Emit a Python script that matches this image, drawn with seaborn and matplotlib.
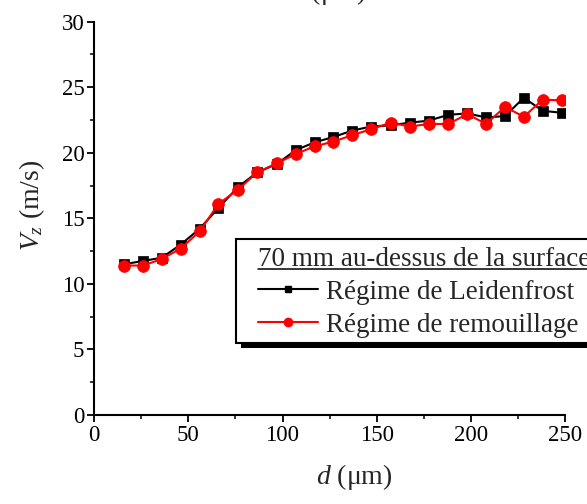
import numpy as np
import pandas as pd
import matplotlib
matplotlib.use("Agg")
import matplotlib.pyplot as plt
import seaborn as sns
from matplotlib.lines import Line2D
from matplotlib.patches import Rectangle
from matplotlib.ticker import MultipleLocator

# ---- data ----
d_um = [16, 26, 36, 46, 56, 66, 76.5, 86.5, 97, 107, 117, 127, 137, 147,
        157.5, 167.5, 177.5, 188, 198, 208, 218, 228, 238, 248.5]
vz_leidenfrost = [11.5, 11.75, 12.0, 13.0, 14.2, 15.8, 17.4, 18.5, 19.15, 20.2,
                  20.8, 21.2, 21.7, 22.0, 22.1, 22.3, 22.45, 22.9, 23.0, 22.7,
                  22.8, 24.2, 23.2, 23.05]
vz_remouillage = [11.4, 11.4, 11.9, 12.7, 14.0, 16.1, 17.2, 18.5, 19.2, 19.9,
                  20.5, 20.85, 21.35, 21.8, 22.3, 22.0, 22.2, 22.2, 22.95, 22.2,
                  23.5, 22.75, 24.05, 24.0]
series_names = ["Régime de Leidenfrost", "Régime de remouillage"]
legend_title = "70 mm au-dessus de la surface"
x_ticks = [0, 50, 100, 150, 200, 250]
y_ticks = [0, 5, 10, 15, 20, 25, 30]

df = pd.DataFrame({
    "d": d_um + d_um,
    "Vz": vz_leidenfrost + vz_remouillage,
    "serie": [series_names[0]] * len(d_um) + [series_names[1]] * len(d_um),
})

sns.set_style("ticks")
plt.rcParams["font.family"] = ["Liberation Serif", "DejaVu Serif"]
plt.rcParams["mathtext.fontset"] = "custom"
plt.rcParams["mathtext.rm"] = "Liberation Serif"
plt.rcParams["mathtext.it"] = "Liberation Serif:italic"

W, H = 587, 504
fig = plt.figure(figsize=(W / 100, H / 100), dpi=100)
ax = fig.add_axes([94 / W, 1 - 415 / H, (565.3 - 94) / W, (415 - 21.7) / H])
ax.set_facecolor("none")

palette = {series_names[0]: "black", series_names[1]: "red"}
markers = {series_names[0]: "s", series_names[1]: "o"}
sns.lineplot(data=df, x="d", y="Vz", hue="serie", style="serie",
             hue_order=series_names, style_order=series_names,
             palette=palette, markers=markers, dashes=False,
             linewidth=1.5, legend=False, ax=ax, sort=False)

msizes = [7, 8.5]
for ln, ms in zip(ax.lines[:2], msizes):
    ln.set_markersize(ms)
    ln.set_markeredgecolor(ln.get_color())
    ln.set_markeredgewidth(0.5)

ax.set_xlim(0, 250)
ax.set_ylim(0, 30)
ax.set_xticks(x_ticks)
ax.set_yticks(y_ticks)
ax.xaxis.set_minor_locator(MultipleLocator(25))
ax.yaxis.set_minor_locator(MultipleLocator(2.5))
ax.tick_params(which="major", direction="out", length=5, width=1.3,
               labelsize=16.5, pad=2, color="black", labelcolor="black")
ax.tick_params(which="minor", direction="out", length=3, width=1.1, color="black")
sns.despine(ax=ax)
for s in ["left", "bottom"]:
    ax.spines[s].set_linewidth(1.5)
    ax.spines[s].set_color("black")

ax.set_xlabel(r"$d$ (μm)", fontsize=20)
ax.set_ylabel(r"$V_z$ (m/s)", fontsize=20)
ax.xaxis.set_label_coords(0.552, -0.12)
ax.yaxis.set_label_coords(-0.10, 0.534)

# cut-off label from the panel above
fig.text(328 / W, 1 - 7 / H, r"$d$ (μm)", ha="center", va="bottom", fontsize=20)

# legend frame + shadow (frame runs past the right edge as in the reference)
fx0, fy0, fx1, fy1 = 236, 239, 610, 343  # pixels from top-left
off = 5
shadow = Rectangle(((fx0 + off) / W, 1 - (fy1 + off) / H), (fx1 - fx0) / W, (fy1 - fy0) / H,
                   transform=fig.transFigure, facecolor="black", edgecolor="none", zorder=4)
frame = Rectangle((fx0 / W, 1 - fy1 / H), (fx1 - fx0) / W, (fy1 - fy0) / H,
                  transform=fig.transFigure, facecolor="white", edgecolor="black",
                  linewidth=1.5, zorder=4.5)
fig.patches.extend([shadow, frame])

handles = [
    Line2D([], [], color="black", lw=1.5, marker="s", markersize=5),
    Line2D([], [], color="red", lw=1.5, marker="o", markersize=6),
]
leg = fig.legend(handles, series_names, title=legend_title,
                 loc="upper left", bbox_to_anchor=(258 / W, 1 - 246.5 / H),
                 bbox_transform=fig.transFigure, fontsize=19.5, title_fontsize=19.5,
                 frameon=False, borderpad=0, borderaxespad=0,
                 labelspacing=0.3, handlelength=2.2,
                 handletextpad=0.3, alignment="left")
leg.set_zorder(5)

fig.canvas.draw()
tb = leg.get_title().get_window_extent()
ul = Line2D([tb.x0, tb.x1], [tb.y0 + 3, tb.y0 + 3], transform=None,
            color="black", lw=1.1, zorder=6)
fig.lines.append(ul)
ul.set_figure(fig)

fig.savefig("out.png", dpi=100)
